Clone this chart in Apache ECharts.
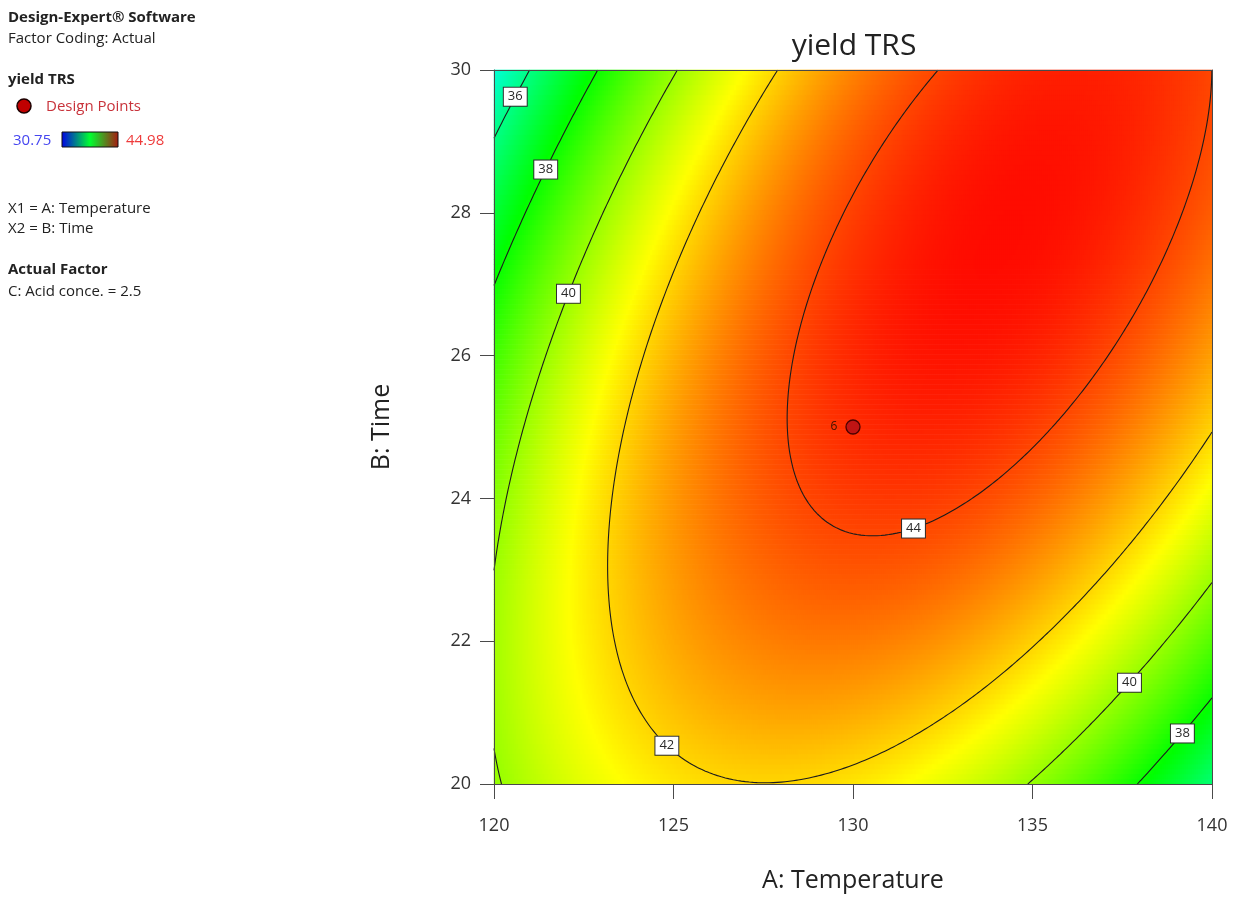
<!DOCTYPE html>
<html>
<head>
<meta charset="utf-8">
<title>yield TRS</title>
<script src="https://cdn.jsdelivr.net/npm/echarts@6/dist/echarts.min.js"></script>
<style>
  html, body { margin: 0; padding: 0; background: #fff; }
  #chart { width: 1238px; height: 898px; }
</style>
</head>
<body>
<div id="chart"></div>
<script>
// Fitted quadratic model for yield TRS in coded units
// x1 = coded A (Temperature), x2 = coded B (Time); C held at 2.5
const modelTerms = ['1', 'x1', 'x2', 'x1*x2', 'x1^2', 'x2^2'];
const modelCoefs = [44.376, 1.377, 0.680, 3.197, -3.698, -1.933];

// Factor ranges and tick labels
const temperatureTicks = [120, 125, 130, 135, 140];
const timeTicks = [20, 22, 24, 26, 28, 30];

// Contour levels and where each level's label sits (A, B, level)
const contourLevels = [36, 38, 40, 42, 44];
const contourLabelAnchors = [
  [120.5, 29.65, 36],
  [121.34, 28.63, 38],
  [122.0, 26.88, 40],
  [124.99, 20.63, 42],
  [131.59, 23.75, 44],
  [137.52, 21.50, 40],
  [139.03, 20.77, 38]
];

// Design points shown on this slice: A, B, run count
const designPoints = [[130, 25, 6]];

// Colour scale range of the response
const responseRange = [30.75, 44.98];

const FONT = '"Open Sans", "Noto Sans", sans-serif';

const aMin = temperatureTicks[0], aMax = temperatureTicks[temperatureTicks.length - 1];
const bMin = timeTicks[0], bMax = timeTicks[timeTicks.length - 1];
const aMid = (aMin + aMax) / 2, aHalf = (aMax - aMin) / 2;
const bMid = (bMin + bMax) / 2, bHalf = (bMax - bMin) / 2;

function termsAt(x1, x2) { return [1, x1, x2, x1 * x2, x1 * x1, x2 * x2]; }
function predictCoded(x1, x2) {
  const t = termsAt(x1, x2);
  let s = 0;
  for (let k = 0; k < modelCoefs.length; k++) s += modelCoefs[k] * t[k];
  return s;
}
function predict(A, B) { return predictCoded((A - aMid) / aHalf, (B - bMid) / bHalf); }
function gradCoded(x1, x2) {
  const c = modelCoefs;
  return [c[1] + c[3] * x2 + 2 * c[4] * x1, c[2] + c[3] * x1 + 2 * c[5] * x2];
}

// Surface sampled as heatmap cells (2 px wide, 5 px tall on the plot)
const NA = 359, NB = 143;
const cellCatsA = [], cellCatsB = [];
for (let i = 0; i < NA; i++) cellCatsA.push(String(i));
for (let j = 0; j < NB; j++) cellCatsB.push(String(j));
const surface = [];
for (let i = 0; i < NA; i++) {
  const A = aMin + (i + 0.5) * (aMax - aMin) / NA;
  for (let j = 0; j < NB; j++) {
    const B = bMin + (j + 0.5) * (bMax - bMin) / NB;
    surface.push([i, j, predict(A, B)]);
  }
}

// Contour lines by marching squares, chained into polylines
const M = 180;
const nodeA = i => aMin + i * (aMax - aMin) / M;
const nodeB = j => bMin + j * (bMax - bMin) / M;
const grid = [];
for (let i = 0; i <= M; i++) {
  grid.push([]);
  for (let j = 0; j <= M; j++) grid[i].push(predict(nodeA(i), nodeB(j)));
}

function contourLines(L) {
  const segs = [];
  const edgePoint = (pa, pb, va, vb) => {
    const t = (L - va) / (vb - va);
    return [pa[0] + t * (pb[0] - pa[0]), pa[1] + t * (pb[1] - pa[1])];
  };
  for (let i = 0; i < M; i++) {
    for (let j = 0; j < M; j++) {
      const p = [[nodeA(i), nodeB(j)], [nodeA(i + 1), nodeB(j)], [nodeA(i + 1), nodeB(j + 1)], [nodeA(i), nodeB(j + 1)]];
      const v = [grid[i][j], grid[i + 1][j], grid[i + 1][j + 1], grid[i][j + 1]];
      const edges = [
        { key: 'h' + i + '_' + j, a: 0, b: 1 },
        { key: 'v' + (i + 1) + '_' + j, a: 1, b: 2 },
        { key: 'h' + i + '_' + (j + 1), a: 3, b: 2 },
        { key: 'v' + i + '_' + j, a: 0, b: 3 }
      ];
      const hits = [];
      edges.forEach((e, idx) => {
        if ((v[e.a] >= L) !== (v[e.b] >= L)) {
          hits.push({ idx, key: e.key, pt: edgePoint(p[e.a], p[e.b], v[e.a], v[e.b]) });
        }
      });
      if (hits.length === 2) {
        segs.push({ a: hits[0].key, b: hits[1].key, pa: hits[0].pt, pb: hits[1].pt });
      } else if (hits.length === 4) {
        const centre = (v[0] + v[1] + v[2] + v[3]) / 4;
        const pairs = ((centre >= L) === (v[0] >= L)) ? [[0, 1], [2, 3]] : [[0, 3], [1, 2]];
        pairs.forEach(pr => {
          const h1 = hits.find(h => h.idx === pr[0]), h2 = hits.find(h => h.idx === pr[1]);
          segs.push({ a: h1.key, b: h2.key, pa: h1.pt, pb: h2.pt });
        });
      }
    }
  }
  const byKey = new Map();
  segs.forEach((s, idx) => {
    [s.a, s.b].forEach(k => {
      if (!byKey.has(k)) byKey.set(k, []);
      byKey.get(k).push(idx);
    });
  });
  const used = new Array(segs.length).fill(false);
  const lines = [];
  for (let s0 = 0; s0 < segs.length; s0++) {
    if (used[s0]) continue;
    used[s0] = true;
    const pts = [segs[s0].pa, segs[s0].pb];
    let key = segs[s0].b;
    for (;;) {
      const next = (byKey.get(key) || []).find(k => !used[k]);
      if (next === undefined) break;
      used[next] = true;
      const s = segs[next];
      if (s.a === key) { pts.push(s.pb); key = s.b; } else { pts.push(s.pa); key = s.a; }
    }
    key = segs[s0].a;
    for (;;) {
      const next = (byKey.get(key) || []).find(k => !used[k]);
      if (next === undefined) break;
      used[next] = true;
      const s = segs[next];
      if (s.a === key) { pts.unshift(s.pb); key = s.b; } else { pts.unshift(s.pa); key = s.a; }
    }
    lines.push(pts);
  }
  return lines;
}

const contourData = [];
contourLevels.forEach(L => {
  contourLines(L).forEach(pts => contourData.push({ coords: pts }));
});

// Snap each label onto its contour (Newton steps in coded units)
const labelData = contourLabelAnchors.map(([A, B, L]) => {
  let x1 = (A - aMid) / aHalf, x2 = (B - bMid) / bHalf;
  for (let k = 0; k < 30; k++) {
    const g = predictCoded(x1, x2) - L;
    const d = gradCoded(x1, x2);
    const n2 = d[0] * d[0] + d[1] * d[1];
    if (n2 < 1e-9) break;
    x1 -= g * d[0] / n2;
    x2 -= g * d[1] / n2;
  }
  return [aMid + x1 * aHalf, bMid + x2 * bHalf, L];
});

const chart = echarts.init(document.getElementById('chart'), null, { renderer: 'canvas' });

const axisLineStyle = { color: '#4a4a4a', width: 1 };

const panelText = (text, x, y, opts) => ({
  type: 'text',
  x: x, y: y,
  style: Object.assign({
    text: text,
    fill: '#222',
    font: '15px ' + FONT,
    verticalAlign: 'middle',
    align: 'left'
  }, opts || {})
});

const option = {
  backgroundColor: '#ffffff',
  animation: false,
  title: {
    text: 'yield TRS',
    left: 849,
    top: 26,
    textAlign: 'center',
    textStyle: { fontSize: 30, fontWeight: 'normal', color: '#222', fontFamily: FONT }
  },
  grid: { left: 494, top: 70, right: 26, bottom: 113, containLabel: false },
  visualMap: {
    type: 'continuous',
    show: false,
    seriesIndex: 0,
    dimension: 2,
    min: responseRange[0],
    max: responseRange[1],
    inRange: { color: ['#0000ff', '#00ffff', '#00ff00', '#ffff00', '#ff0000'] }
  },
  xAxis: [
    {
      type: 'value',
      min: aMin, max: aMax, interval: temperatureTicks[1] - temperatureTicks[0],
      position: 'bottom',
      name: 'A: Temperature',
      nameLocation: 'middle',
      nameGap: 84,
      nameTextStyle: { fontSize: 25, color: '#222', fontFamily: FONT },
      axisLine: { show: true, onZero: false, lineStyle: axisLineStyle },
      axisTick: { show: true, inside: false, length: 15, lineStyle: axisLineStyle },
      axisLabel: { fontSize: 18, color: '#333', margin: 33, fontFamily: FONT },
      splitLine: { show: false },
      z: 10
    },
    {
      type: 'category',
      data: cellCatsA,
      position: 'top',
      boundaryGap: true,
      axisLine: { show: true, onZero: false, lineStyle: axisLineStyle },
      axisTick: { show: false },
      axisLabel: { show: false },
      splitLine: { show: false },
      z: 10
    }
  ],
  yAxis: [
    {
      type: 'value',
      min: bMin, max: bMax, interval: timeTicks[1] - timeTicks[0],
      position: 'left',
      name: 'B: Time',
      nameLocation: 'middle',
      nameGap: 100,
      nameRotate: 90,
      nameTextStyle: { fontSize: 25, color: '#222', fontFamily: FONT },
      axisLine: { show: true, onZero: false, lineStyle: axisLineStyle },
      axisTick: { show: true, inside: false, length: 14, lineStyle: axisLineStyle },
      axisLabel: { fontSize: 18, color: '#333', margin: 23, fontFamily: FONT },
      splitLine: { show: false },
      z: 10
    },
    {
      type: 'category',
      data: cellCatsB,
      position: 'right',
      boundaryGap: true,
      axisLine: { show: true, onZero: false, lineStyle: axisLineStyle },
      axisTick: { show: false },
      axisLabel: { show: false },
      splitLine: { show: false },
      z: 10
    }
  ],
  series: [
    {
      name: 'surface',
      type: 'heatmap',
      xAxisIndex: 1,
      yAxisIndex: 1,
      data: surface,
      progressive: 0,
      emphasis: { disabled: true },
      silent: true,
      z: 1
    },
    {
      name: 'contours',
      type: 'lines',
      coordinateSystem: 'cartesian2d',
      xAxisIndex: 0,
      yAxisIndex: 0,
      polyline: true,
      silent: true,
      lineStyle: { color: '#1c1c1c', width: 1.1, opacity: 1 },
      data: contourData,
      z: 3
    },
    {
      name: 'contour labels',
      type: 'scatter',
      xAxisIndex: 0,
      yAxisIndex: 0,
      symbol: 'circle',
      symbolSize: 2,
      itemStyle: { color: 'rgba(0,0,0,0)', opacity: 1 },
      silent: true,
      data: labelData,
      labelLayout: { hideOverlap: false },
      label: {
        show: true,
        position: 'inside',
        opacity: 1,
        formatter: p => String(p.value[2]),
        fontSize: 13,
        fontFamily: FONT,
        color: '#2a2a2a',
        backgroundColor: '#ffffff',
        borderColor: '#2e2e2e',
        borderWidth: 1,
        padding: [3, 4, 2, 4]
      },
      z: 4
    },
    {
      name: 'Design Points',
      type: 'scatter',
      xAxisIndex: 0,
      yAxisIndex: 0,
      symbol: 'circle',
      symbolSize: 14,
      itemStyle: { color: '#c01414', borderColor: '#4a0000', borderWidth: 1.3, opacity: 1 },
      data: designPoints,
      label: {
        show: true,
        position: 'left',
        distance: 8,
        opacity: 1,
        formatter: p => String(p.value[2]),
        fontSize: 12,
        fontFamily: FONT,
        color: '#3a1200'
      },
      z: 5
    }
  ],
  graphic: [
    panelText('Design-Expert® Software', 8, 18, { font: 'bold 15px ' + FONT }),
    panelText('Factor Coding: Actual', 8, 39),
    panelText('yield TRS', 8, 80, { font: 'bold 15px ' + FONT }),
    {
      type: 'circle',
      shape: { cx: 24, cy: 106, r: 7 },
      style: { fill: '#c00000', stroke: '#1a0000', lineWidth: 1.5 }
    },
    panelText('Design Points', 46, 107, { fill: '#c8323a' }),
    panelText('30.75', 13, 141, { fill: '#4646f0' }),
    {
      type: 'rect',
      shape: { x: 62, y: 132, width: 56, height: 15 },
      style: {
        fill: new echarts.graphic.LinearGradient(0, 0, 1, 0, [
          { offset: 0, color: '#0000e6' },
          { offset: 0.5, color: '#00ff30' },
          { offset: 1, color: '#a81810' }
        ]),
        stroke: '#111',
        lineWidth: 1
      }
    },
    panelText('44.98', 126, 141, { fill: '#ee3a3a' }),
    panelText('X1 = A: Temperature', 8, 209),
    panelText('X2 = B: Time', 8, 229),
    panelText('Actual Factor', 8, 270, { font: 'bold 15px ' + FONT }),
    panelText('C: Acid conce. = 2.5', 8, 292)
  ]
};

chart.setOption(option);
</script>
</body>
</html>
